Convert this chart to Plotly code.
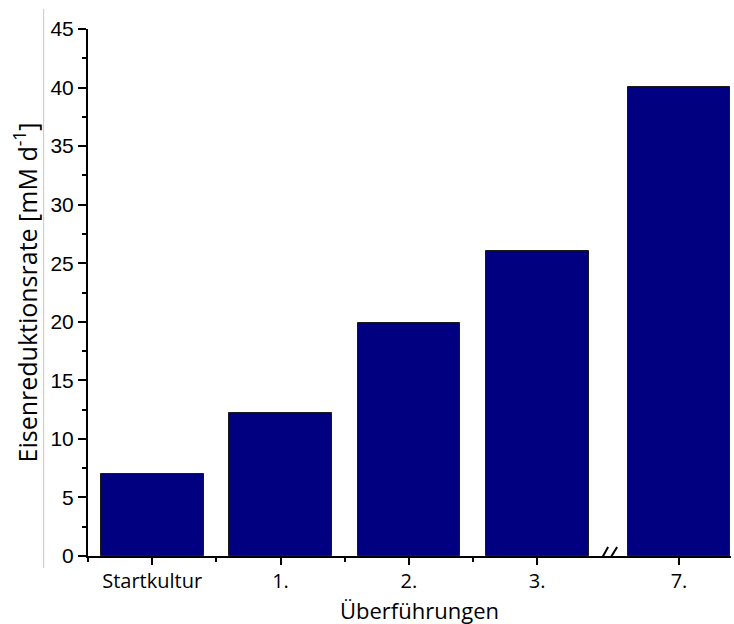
import numpy as np
import plotly.graph_objects as go

# ---- data ----
categories = ["Startkultur", "1.", "2.", "3.", "7."]
rates = [7.0, 12.2, 19.9, 26.05, 40.05]
y_tick_vals = [0, 5, 10, 15, 20, 25, 30, 35, 40, 45]
y_tick_text = ["0", "5", "10", "15", "20", "25", "30", "35", "40", "45"]
x_title = "Überführungen"
y_title = "Eisenreduktionsrate [mM d<sup>-1</sup>]"

# ---- layout helpers ----
break_after = 3        # axis break between "3." and "7."
break_extra = 0.105    # extra spacing introduced by the break
x_pos = np.arange(len(categories), dtype=float)
x_pos[break_after + 1:] += break_extra
break_x = (x_pos[break_after] + x_pos[break_after + 1]) / 2
minor_x = [-0.5] + [i + 0.5 for i in range(break_after)]

label_font = "Open Sans"
num_font = "Liberation Sans"

fig = go.Figure()
fig.add_trace(go.Bar(
    x=x_pos, y=rates, width=0.8,
    marker=dict(color="#000080", line=dict(color="#1a1a1a", width=1)),
    hoverinfo="y",
))

shapes = []
# axis break slashes
for (px0, px1) in [(-10, 0), (-2, 9)]:
    shapes.append(dict(type="line", xref="x", yref="y",
                       xsizemode="pixel", xanchor=break_x,
                       ysizemode="pixel", yanchor=0,
                       x0=px0, x1=px1, y0=-9, y1=9,
                       line=dict(color="black", width=2)))
# faint frame line at left (from the original image)
shapes.append(dict(type="line", xref="paper", yref="paper",
                   x0=-0.069, x1=-0.069, y0=-0.023, y1=1.038,
                   line=dict(color="#c8c8c8", width=1)))

fig.update_layout(
    width=734, height=624,
    margin=dict(l=88, r=3, t=29, b=68),
    plot_bgcolor="white", paper_bgcolor="white",
    showlegend=False,
    bargap=0,
    shapes=shapes,
    annotations=[dict(
        text=x_title, xref="paper", yref="paper",
        x=0.516, y=0, xanchor="center", yanchor="bottom",
        yshift=-70, showarrow=False, borderpad=0,
        font=dict(family=label_font, size=22, color="black"),
    )],
    xaxis=dict(
        range=[-0.5, 4.51],
        tickmode="array", tickvals=x_pos, ticktext=categories,
        ticks="outside", ticklen=7, tickwidth=2, tickcolor="black",
        showline=True, linewidth=2, linecolor="black",
        showgrid=False, zeroline=False,
        ticklabelstandoff=-1,
        tickfont=dict(family=label_font, size=20, color="black"),
        minor=dict(tickmode="array", tickvals=minor_x, ticks="outside",
                   ticklen=4, tickwidth=2, tickcolor="black", showgrid=False),
    ),
    yaxis=dict(
        range=[0, 45],
        tickmode="array", tickvals=y_tick_vals, ticktext=y_tick_text,
        ticks="outside", ticklen=8, tickwidth=2, tickcolor="black",
        showline=True, linewidth=2, linecolor="black",
        showgrid=False, zeroline=False,
        tickfont=dict(family=num_font, size=21, color="black"),
        minor=dict(tickmode="linear", tick0=2.5, dtick=5, ticks="outside",
                   ticklen=4, tickwidth=2, tickcolor="black", showgrid=False),
        title=dict(text=y_title, standoff=6,
                   font=dict(family=label_font, size=25, color="black")),
    ),
)

fig.write_html("out.html")
